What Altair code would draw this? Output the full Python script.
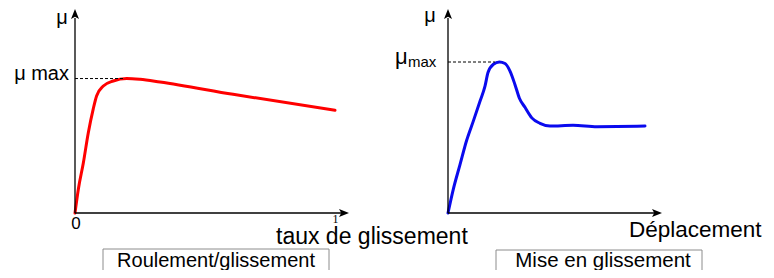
import altair as alt
import pandas as pd

# ---------------- data ----------------
# Left panel: Roulement/glissement  (mu normalised so that mu max = 1)
slip_ratio = [0, 0.013, 0.032, 0.051, 0.070, 0.083, 0.109, 0.147, 0.199, 0.25, 0.327, 0.608, 1.0]
mu_slip = [0, 0.178, 0.370, 0.593, 0.770, 0.867, 0.941, 0.978, 0.996, 0.990, 0.970, 0.879, 0.761]

# Right panel: Mise en glissement (arbitrary displacement units)
displacement = [0, 0.27, 0.6, 0.93, 1.27, 1.6, 1.85, 2.0, 2.27, 2.57, 2.85, 3.1, 3.35,
                3.57, 3.85, 4.19, 4.6, 5.1, 6.25, 7.45, 9.85]
mu_disp = [0, 0.16, 0.32, 0.48, 0.61, 0.74, 0.84, 0.93, 0.985, 1.0, 0.99, 0.94, 0.85,
           0.76, 0.70, 0.63, 0.594, 0.576, 0.581, 0.572, 0.576]

slip_ticks = ["0", "1"]
left_labels = ["μ", "μ max", "taux de glissement", "Roulement/glissement"]
right_labels = ["μ", "μ", "max", "Déplacement", "Mise en glissement"]

# ---------------- layout ----------------
W, H = 758, 262
FONT = "Liberation Sans"
SHIFT = 4  # whole drawing moved up a little so the bottom boxes fit


def scales(x0, y0, sx, sy):
    xs = alt.Scale(domain=[-x0 / sx, (W - x0) / sx], nice=False, zero=False)
    ys = alt.Scale(domain=[(y0 - H) / sy, y0 / sy], nice=False, zero=False)
    return xs, ys


ARROW = "M0,-1L0.8,1L0,0.55L-0.8,1Z"


def panel(xv, yv, color, xs, ys, xmax_rule, xarrow, ymax_rule, yarrow, dash_end, texts, box):
    X = lambda f: alt.X(f, type="quantitative", scale=xs, axis=None)
    Y = lambda f: alt.Y(f, type="quantitative", scale=ys, axis=None)

    curve = alt.Chart(pd.DataFrame({"x": xv, "y": yv})).mark_line(
        color=color, strokeWidth=3, interpolate="monotone", strokeCap="round"
    ).encode(x=X("x"), y=Y("y"))

    axes = alt.Chart(pd.DataFrame({"x": [0, 0], "x2": [0, xmax_rule],
                                   "y": [0, 0], "y2": [ymax_rule, 0]})).mark_rule(
        color="black", strokeWidth=1.3
    ).encode(x=X("x"), x2="x2:Q", y=Y("y"), y2="y2:Q")

    arrows = alt.Chart(pd.DataFrame({"x": [0, xarrow], "y": [yarrow, 0], "a": [0, 90]})).mark_point(
        shape=ARROW, filled=True, size=100, color="black", opacity=1, strokeWidth=0
    ).encode(x=X("x"), y=Y("y"), angle=alt.Angle("a:Q", scale=None))

    dashed = alt.Chart(pd.DataFrame({"x": [0], "x2": [dash_end], "y": [max(yv)]})).mark_rule(
        color="black", strokeWidth=1, strokeDash=[3, 2]
    ).encode(x=X("x"), x2="x2:Q", y=Y("y"))

    bx = alt.Chart(pd.DataFrame({"x": [box[0]], "x2": [box[1]], "y": [box[2]], "y2": [box[3]]})).mark_rect(
        fill="white", stroke="#8c8c8c", strokeWidth=1
    ).encode(x=X("x"), x2="x2:Q", y=Y("y"), y2="y2:Q")

    layers = [curve, dashed, axes, arrows, bx]
    for (tx, ty, t, size, align, font) in texts:
        layers.append(
            alt.Chart(pd.DataFrame({"x": [tx], "y": [ty], "t": [t]})).mark_text(
                fontSize=size, align=align, baseline="alphabetic", font=font, color="black"
            ).encode(x=X("x"), y=Y("y"), text="t:N")
        )
    return alt.layer(*layers)


# left panel: origin at page (75,217); t=1 at page x 335; mu max at page y 82
lx0, ly0, lsx, lsy = 75 - 8, 217 - 8 - SHIFT, 260.0, 135.0
lxs, lys = scales(lx0, ly0, lsx, lsy)
lpx = lambda p: (p - 75) / lsx
lpy = lambda p: (217 - p) / lsy
left_texts = [
    (lpx(62), lpy(28), left_labels[0], 20, "center", FONT),
    (lpx(69), lpy(84), left_labels[1], 20, "right", FONT),
    (lpx(76), lpy(233), slip_ticks[0], 17, "center", FONT),
    (lpx(335.5), lpy(227), slip_ticks[1], 12, "center", "Liberation Serif"),
    (lpx(276), lpy(248), left_labels[2], 23, "left", FONT),
    (lpx(216), lpy(271), left_labels[3], 20, "center", FONT),
]
left = panel(slip_ratio, mu_slip, "#ff0000", lxs, lys,
             lpx(343), lpx(344), lpy(22), lpy(18), lpx(123),
             left_texts, (lpx(103), lpx(329), lpy(253), lpy(295)))

# right panel: origin at page (448,217); 20 px per unit; mu max at page y 66
rx0, ry0, rsx, rsy = 448 - 8, 217 - 8 - SHIFT, 20.0, 151.0
rxs, rys = scales(rx0, ry0, rsx, rsy)
rpx = lambda p: (p - 448) / rsx
rpy = lambda p: (217 - p) / rsy
right_texts = [
    (rpx(430), rpy(26), right_labels[0], 20, "center", FONT),
    (rpx(395), rpy(68), right_labels[1], 22, "left", FONT),
    (rpx(408), rpy(71), right_labels[2], 15, "left", FONT),
    (rpx(629), rpy(241), right_labels[3], 22.5, "left", FONT),
    (rpx(603), rpy(271), right_labels[4], 20.5, "center", FONT),
]
right = panel(displacement, mu_disp, "#0a0aee", rxs, rys,
              rpx(656), rpx(657), rpy(22), rpy(18), rpx(495),
              right_texts, (rpx(496), rpx(702), rpy(254), rpy(295)))

chart = alt.layer(left, right).resolve_scale(
    x="independent", y="independent"
).properties(
    width=W, height=H, padding=0, background="white",
    autosize=alt.AutoSizeParams(type="none"),
).configure_view(stroke=None)

chart.save("out.html", embed_options={"renderer": "svg", "actions": False})
